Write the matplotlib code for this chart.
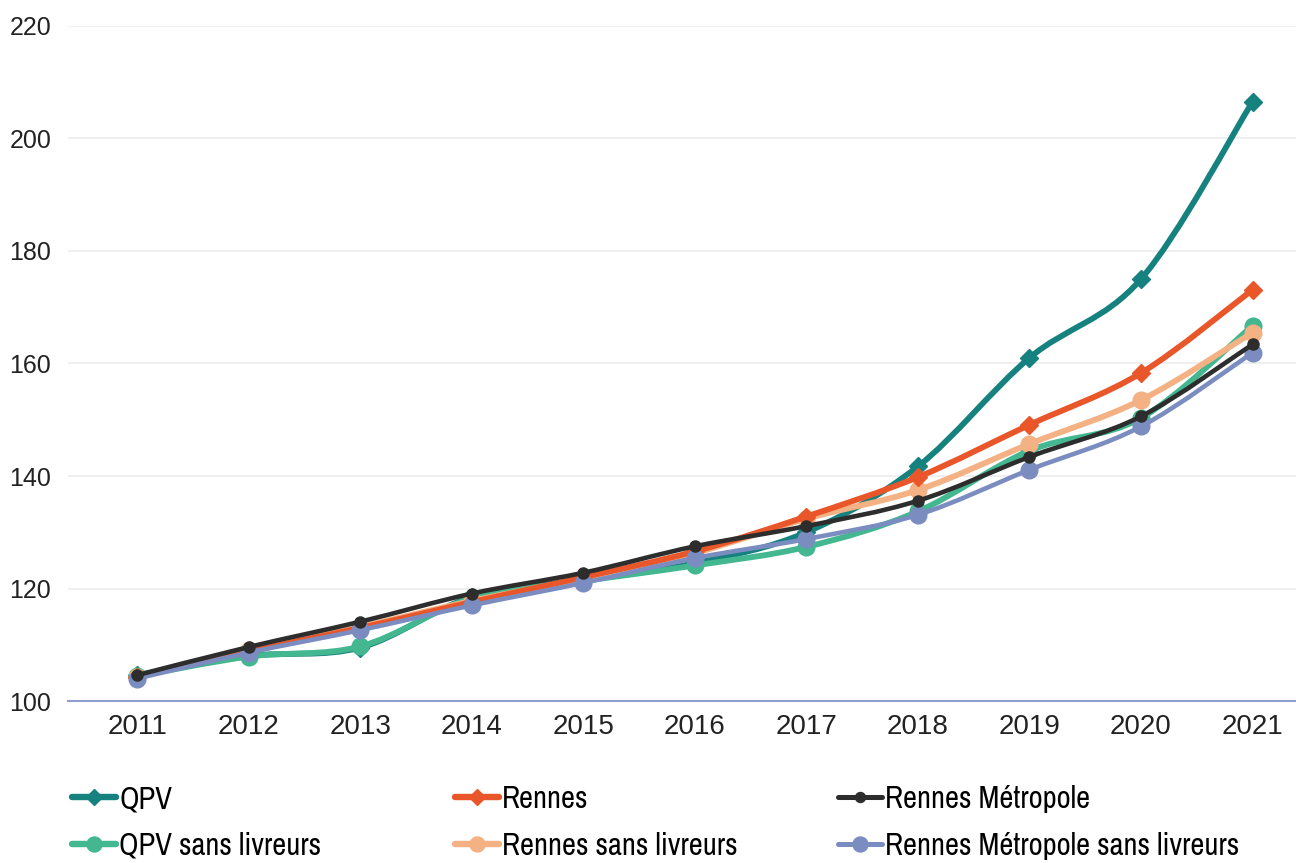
import numpy as np
import matplotlib
matplotlib.use("Agg")
import matplotlib.pyplot as plt
from matplotlib.path import Path
from matplotlib.patches import PathPatch
from matplotlib.lines import Line2D
from matplotlib import font_manager as fm

years = [2011, 2012, 2013, 2014, 2015, 2016, 2017, 2018, 2019, 2020, 2021]
qpv = [104.6, 108.0, 109.5, 118.5, 121.5, 124.5, 130.0, 141.7, 161.0, 175.0, 206.5]
rennes = [104.3, 108.8, 113.0, 117.6, 122.0, 126.6, 132.8, 139.8, 149.1, 158.3, 173.1]
rm = [104.6, 109.6, 114.1, 119.1, 122.8, 127.5, 131.1, 135.6, 143.4, 150.6, 163.4]
qpv_sl = [104.4, 107.9, 109.7, 118.3, 121.3, 124.1, 127.4, 133.7, 144.5, 150.3, 166.7]
rennes_sl = [104.2, 109.0, 113.2, 117.8, 121.8, 126.3, 132.4, 137.5, 145.7, 153.5, 165.5]
rm_sl = [104.0, 108.6, 112.6, 117.0, 121.0, 125.4, 128.8, 133.1, 141.1, 148.8, 161.9]

labels = ["QPV", "Rennes", "Rennes Métropole",
          "QPV sans livreurs", "Rennes sans livreurs", "Rennes Métropole sans livreurs"]
yticks = [100, 120, 140, 160, 180, 200, 220]

styles = {
    "QPV": ("#16827f", "D", 9, 4.2, 2),
    "Rennes": ("#e8562a", "D", 9, 4.2, 5),
    "Rennes Métropole": ("#2d2d2d", "o", 8, 3.3, 7),
    "QPV sans livreurs": ("#43b78f", "o", 12, 4.2, 3),
    "Rennes sans livreurs": ("#f4b183", "o", 12, 4.2, 4),
    "Rennes Métropole sans livreurs": ("#7b8dc0", "o", 12, 3.3, 6),
}
series = dict(zip(labels, [qpv, rennes, rm, qpv_sl, rennes_sl, rm_sl]))

available = {f.name for f in fm.fontManager.ttflist}
narrow = "Liberation Sans"
for cand in ["Arial Narrow", "Liberation Sans Narrow", "Archivo Narrow", "Roboto Condensed",
             "PT Sans Narrow", "Pragati Narrow", "Open Sans Condensed", "Fira Sans Condensed",
             "IBM Plex Sans Condensed", "Encode Sans Condensed", "Asap Condensed"]:
    if cand in available:
        narrow = cand
        break
NARROW = [narrow, "DejaVu Sans"]
REG = ["Liberation Sans", "DejaVu Sans"]
plt.rcParams["font.family"] = REG

fig = plt.figure(figsize=(12.96, 8.63), dpi=100)
ax = fig.add_axes([0.0525, 0.1877, 0.9475, 0.7822])


def smooth_path(xs, ys):
    xs = np.asarray(xs, float)
    ys = np.asarray(ys, float)
    n = len(xs)
    verts = [(xs[0], ys[0])]
    codes = [Path.MOVETO]
    for i in range(n - 1):
        i0 = max(i - 1, 0)
        i3 = min(i + 2, n - 1)
        c1 = (xs[i] + (xs[i + 1] - xs[i0]) / 6.0, ys[i] + (ys[i + 1] - ys[i0]) / 6.0)
        c2 = (xs[i + 1] - (xs[i3] - xs[i]) / 6.0, ys[i + 1] - (ys[i3] - ys[i]) / 6.0)
        verts += [c1, c2, (xs[i + 1], ys[i + 1])]
        codes += [Path.CURVE4] * 3
    return Path(verts, codes)


for lab in labels:
    col, mk, ms, lw, z = styles[lab]
    vals = series[lab]
    patch = PathPatch(smooth_path(years, vals), facecolor="none", edgecolor=col,
                      lw=lw, zorder=z, capstyle="round", joinstyle="round")
    ax.add_patch(patch)
    ax.plot(years, vals, linestyle="none", marker=mk, ms=ms, color=col,
            zorder=z + 0.1)

ax.set_xlim(2010.38, 2021.39)
ax.set_ylim(100, 220)
ax.set_xticks(years)
ax.set_yticks(yticks)
ax.set_xticklabels([str(y) for y in years], fontsize=20, family=REG)
ax.set_yticklabels([str(v) for v in yticks], fontsize=18, family=REG)
ax.tick_params(axis="both", length=0, colors="#222222")
ax.tick_params(axis="x", pad=9)
ax.tick_params(axis="y", pad=12)

ax.grid(axis="y", color="#ececec", lw=1.2)
ax.set_axisbelow(True)
for s in ["top", "right", "left"]:
    ax.spines[s].set_visible(False)
ax.spines["bottom"].set_color("#8f9fd0")
ax.spines["bottom"].set_linewidth(1.5)
ax.spines["bottom"].set_zorder(1)

cols = [[0, 3], [1, 4], [2, 5]]
xpos = [72 / 1296, 455 / 1296, 838 / 1296]
for xp, idx in zip(xpos, cols):
    handles = []
    for i in idx:
        lab = labels[i]
        col, mk, ms, lw, z = styles[lab]
        handles.append(Line2D([0], [0], color=col, lw=lw * 1.1, marker=mk,
                              ms=ms * 0.9, solid_capstyle="round"))
    fig.legend(handles, [labels[i] for i in idx], loc="upper left",
               bbox_to_anchor=(xp, 78 / 863), frameon=False,
               prop={"family": NARROW, "size": 22},
               handlelength=1.45, handletextpad=0.1, labelspacing=0.62,
               borderpad=0, borderaxespad=0)

fig.savefig("out.png", dpi=100)
